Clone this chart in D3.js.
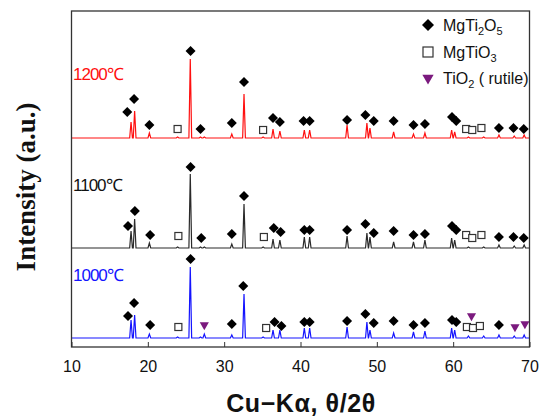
<!DOCTYPE html>
<html>
<head>
<meta charset="utf-8">
<script src="https://cdn.jsdelivr.net/npm/d3@7"></script>
<style>
  body { margin: 0; background: white; }
  text { font-family: "Liberation Sans", Arial, sans-serif; }
</style>
</head>
<body>
<script>
// peak positions (2-theta) and heights, one array per trace
var peakPos   = [17.8, 18.27, 20.2, 23.9, 25.56, 26.9, 27.4, 31.0, 32.6, 35.1, 36.4, 37.3, 40.5, 41.2, 46.1, 48.7, 49.1, 52.2, 54.8, 56.3, 59.8, 60.2, 62.0, 64.0, 66.0, 68.0, 69.3];
var red1200   = [16, 27, 5, 1, 79, 1, 1, 4, 44, 1, 9, 7, 8, 8, 13, 15, 10, 6, 4, 5, 8, 6, 1, 1, 3, 2, 3];
var black1100 = [17, 29, 5, 1, 74, 1, 1, 4, 44, 1, 9, 8, 11, 11, 12, 15, 11, 6, 6, 8, 10, 8, 1, 1, 3, 2, 3];
var blue1000  = [18, 23, 4, 1, 71, 1, 4, 3, 44, 1, 8, 8, 10, 10, 11, 16, 8, 5, 6, 7, 10, 8, 2, 2, 3, 2, 3];

var xTicks = [10, 20, 30, 40, 50, 60, 70];
var temps = ["1200℃", "1100℃", "1000℃"];
var offsets = [209, 99, 9];   // vertical stacking of the traces (a.u.)

// phase markers: [2theta, level above baseline, phase]
var redMarks = [[17.3,26,"d"],[18.2,39,"d"],[20.2,13,"d"],[23.9,9,"s"],[25.6,87,"d"],[26.9,9,"d"],[31.0,15,"d"],[32.6,56,"d"],[35.1,8,"s"],[36.4,20,"d"],[37.3,16,"d"],[40.4,17,"d"],[41.2,17,"d"],[46.1,18,"d"],[48.5,23,"d"],[49.6,17,"d"],[52.2,17,"d"],[54.8,13,"d"],[56.3,14,"d"],[59.85,21,"d"],[60.4,17,"d"],[61.7,9,"s"],[62.5,8,"s"],[63.7,10,"s"],[66.0,10,"d"],[67.9,10,"d"],[69.25,9,"d"]];
var blackMarks = [[17.4,22,"d"],[18.3,37,"d"],[20.3,13,"d"],[24.0,12,"s"],[25.6,81,"d"],[27.0,10,"d"],[31.0,14,"d"],[32.6,52,"d"],[35.2,11,"s"],[36.5,20,"d"],[37.4,16,"d"],[40.5,18,"d"],[41.2,18,"d"],[46.1,18,"d"],[48.5,24,"d"],[49.6,15,"d"],[52.2,17,"d"],[54.8,13,"d"],[56.3,14,"d"],[59.85,22,"d"],[60.4,18,"d"],[61.7,13,"s"],[62.5,10,"s"],[63.7,13,"s"],[66.0,11,"d"],[67.9,11,"d"],[69.25,10,"d"]];
var blueMarks = [[17.4,22,"d"],[18.2,35,"d"],[20.3,13,"d"],[24.0,11,"s"],[25.6,79,"d"],[27.4,13,"t"],[31.0,14,"d"],[32.5,52,"d"],[35.5,10,"s"],[36.6,16,"d"],[37.5,12,"d"],[40.5,16,"d"],[41.2,16,"d"],[46.1,17,"d"],[48.5,24,"d"],[49.6,15,"d"],[52.2,17,"d"],[54.8,13,"d"],[56.3,15,"d"],[59.85,18,"d"],[60.4,16,"d"],[61.8,11,"s"],[62.6,10,"s"],[63.5,12,"s"],[62.4,22,"t"],[66.0,13,"d"],[68.1,11,"t"],[69.4,14,"t"]];

var legendNames = ["MgTi", "MgTiO", "TiO"];

var width = 539, height = 419;
var margin = {top: 11, right: 9.5, bottom: 72, left: 71.5};

var svg = d3.select("body").append("svg")
  .attr("width", width)
  .attr("height", height);

var x = d3.scaleLinear().domain([10, 70]).range([margin.left, width - margin.right]);
var y = d3.scaleLinear().domain([0, 336]).range([height - margin.bottom, margin.top]);

var series = [
  {vals: red1200, marks: redMarks, color: "#ff1010", off: offsets[0], label: temps[0]},
  {vals: black1100, marks: blackMarks, color: "#2a2a2a", off: offsets[1], label: temps[1]},
  {vals: blue1000, marks: blueMarks, color: "#1414ff", off: offsets[2], label: temps[2]}
];

var line = d3.line()
  .x(function(d) { return x(d[0]); })
  .y(function(d) { return y(d[1]); });

// trace: baseline between peaks, narrow spike at each peak
series.forEach(function(s) {
  var pts = [[10, s.off]];
  peakPos.forEach(function(p, i) {
    pts.push([p - 0.18, s.off]);
    pts.push([p, s.off + s.vals[i]]);
    pts.push([p + 0.18, s.off]);
  });
  pts.push([70, s.off]);
  svg.append("path")
    .attr("d", line(pts))
    .attr("fill", "none")
    .attr("stroke", s.color)
    .attr("stroke-width", 1.2);
});

var diamond = d3.symbol().type(d3.symbolSquare);
var tri = d3.symbol().type(d3.symbolTriangle);

function drawMark(g, type, cx, cy, big) {
  if (type === "d") {
    g.append("path").attr("d", diamond.size(big ? 72 : 50)())
      .attr("transform", "translate(" + cx + "," + cy + ") rotate(45)")
      .attr("fill", "black");
  } else if (type === "s") {
    var sz = big ? 10 : 7;
    g.append("rect").attr("x", cx - sz / 2).attr("y", cy - sz / 2)
      .attr("width", sz).attr("height", sz)
      .attr("fill", "white").attr("stroke", "#333").attr("stroke-width", 1.2);
  } else {
    g.append("path").attr("d", tri.size(big ? 55 : 36)())
      .attr("transform", "translate(" + cx + "," + cy + ") rotate(180)")
      .attr("fill", "#7b1a7e");
  }
}

var markG = svg.append("g");
series.forEach(function(s) {
  s.marks.forEach(function(m) {
    drawMark(markG, m[2], x(m[0]), y(s.off + m[1]), false);
  });
});

// temperature labels
series.forEach(function(s) {
  svg.append("text")
    .attr("x", 73)
    .attr("y", y(s.off) - (s.off > 100 ? 58 : 57))
    .attr("fill", s.color === "#2a2a2a" ? "#111" : s.color)
    .style("font-size", "17px")
    .style("letter-spacing", "-1px")
    .text(s.label);
});

// frame
svg.append("rect")
  .attr("x", margin.left).attr("y", margin.top)
  .attr("width", width - margin.right - margin.left)
  .attr("height", height - margin.bottom - margin.top)
  .attr("fill", "none").attr("stroke", "#333").attr("stroke-width", 1.3);

// x axis with inward ticks
var xAxis = svg.append("g")
  .attr("transform", "translate(0," + (height - margin.bottom) + ")")
  .call(d3.axisBottom(x).tickValues(xTicks).tickSize(-5).tickPadding(14).tickFormat(d3.format("d")));
xAxis.select(".domain").remove();
xAxis.selectAll(".tick line").attr("stroke", "#333");
xAxis.selectAll(".tick text")
  .style("font-size", "16px")
  .style("font-family", "'Liberation Sans', Arial, sans-serif")
  .attr("fill", "#111");

svg.append("text")
  .attr("x", 301).attr("y", 412)
  .attr("text-anchor", "middle")
  .style("font-size", "25px").style("font-weight", "bold")
  .style("letter-spacing", "0.6px")
  .attr("fill", "#111")
  .text("Cu\u2212K\u03b1, \u03b8/2\u03b8");

svg.append("text")
  .attr("transform", "translate(35,187) rotate(-90)")
  .attr("text-anchor", "middle")
  .style("font-family", "'Liberation Serif', 'Times New Roman', serif")
  .style("font-size", "27px").style("font-weight", "bold")
  .attr("fill", "#111")
  .text("Intensity (a.u.)");

// legend
var legendY = [25, 52, 78];
var lg = svg.append("g");
["d", "s", "t"].forEach(function(t, i) {
  drawMark(lg, t, 428, legendY[i], true);
});
legendNames.forEach(function(n, i) {
  var tx = lg.append("text").attr("x", 443).attr("y", legendY[i] + 6)
    .style("font-size", "16px").attr("fill", "#111");
  if (i === 0) {
    tx.append("tspan").text(n);
    tx.append("tspan").attr("dy", 4).style("font-size", "11px").text("2");
    tx.append("tspan").attr("dy", -4).text("O");
    tx.append("tspan").attr("dy", 4).style("font-size", "11px").text("5");
  } else if (i === 1) {
    tx.append("tspan").text(n);
    tx.append("tspan").attr("dy", 4).style("font-size", "11px").text("3");
  } else {
    tx.append("tspan").text(n);
    tx.append("tspan").attr("dy", 4).style("font-size", "11px").text("2");
    tx.append("tspan").attr("dy", -4).text("  ( rutile)");
  }
});
</script>
</body>
</html>
